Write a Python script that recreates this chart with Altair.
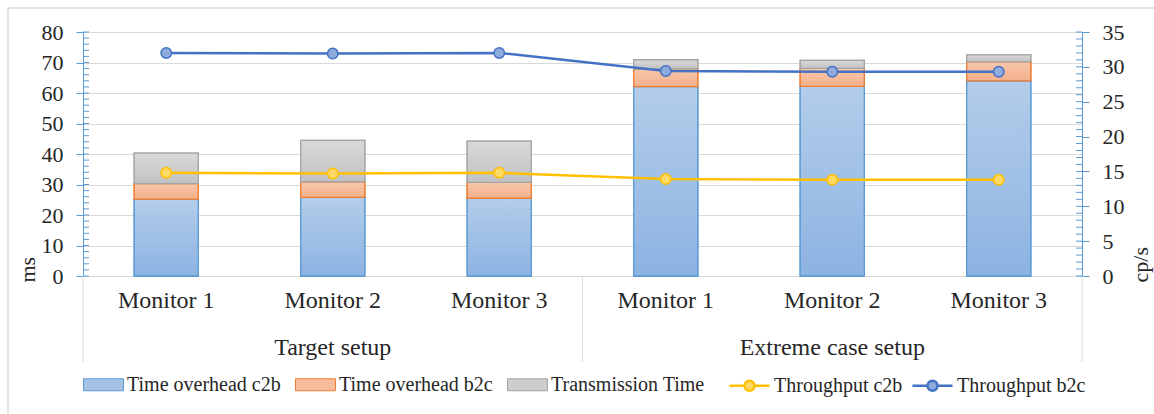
import altair as alt
import pandas as pd

# ---------------- data ----------------
setups = ["Target setup"] * 3 + ["Extreme case setup"] * 3
monitors = ["Monitor 1", "Monitor 2", "Monitor 3"] * 2
c2b_time = [25.2, 25.8, 25.5, 62.1, 62.2, 64.0]
b2c_time = [5.1, 5.1, 5.2, 5.8, 5.9, 6.2]
trans_time = [10.0, 13.6, 13.5, 3.0, 2.6, 2.3]
thr_c2b = [14.8, 14.7, 14.8, 13.9, 13.8, 13.8]
thr_b2c = [32.0, 31.9, 32.0, 29.4, 29.3, 29.3]
bar_series = ["Time overhead c2b", "Time overhead b2c", "Transmission Time"]
line_series = ["Throughput c2b", "Throughput b2c"]
group_labels = ["Target setup", "Extreme case setup"]
left_ticks = [0, 10, 20, 30, 40, 50, 60, 70, 80]
right_ticks = [0, 5, 10, 15, 20, 25, 30, 35]
left_minor = list(range(0, 81, 2))
right_minor = list(range(0, 36, 1))

cats = [f"{s}|{m}" for s, m in zip(setups, monitors)]

rows = []
for i, cat in enumerate(cats):
    base = 0.0
    for name, vals in zip(bar_series, [c2b_time, b2c_time, trans_time]):
        rows.append(dict(cat=cat, series=name, y0=base, y1=base + vals[i]))
        base += vals[i]
bars = pd.DataFrame(rows)
lines = pd.DataFrame({"cat": cats * 2,
                      "series": [line_series[0]] * 6 + [line_series[1]] * 6,
                      "v": thr_c2b + thr_b2c})
groups = pd.DataFrame({"cat": [cats[1], cats[4]], "g": group_labels})
edges0 = pd.DataFrame({"cat": [cats[0], cats[3]]})
edges1 = pd.DataFrame({"cat": [cats[5]]})
lminor = pd.DataFrame({"t": left_minor})
rminor = pd.DataFrame({"t": right_minor})

W, H = 999, 244
FONT = "Liberation Serif, Times New Roman, serif"
TXT = "#262626"
AXBLUE = "#5b9bd5"
GRID = "#d9d9d9"

x_scale = alt.Scale(domain=cats, paddingInner=0, paddingOuter=0)
x_axis = alt.Axis(labelExpr="split(datum.value, '|')[1]", title=None, ticks=False,
                  domainColor=GRID, domainWidth=1, labelPadding=12, labelFontSize=24,
                  labelAngle=0, grid=False, labelColor=TXT, labelFont=FONT)


def xenc(bp=None):
    if bp is None:
        return alt.X("cat:N", sort=cats, scale=x_scale, axis=x_axis)
    return alt.X("cat:N", sort=cats, scale=x_scale, axis=x_axis, bandPosition=bp)


yl_scale = alt.Scale(domain=[0, 80], nice=False, zero=True)
yr_scale = alt.Scale(domain=[0, 35], nice=False, zero=True)
left_axis = alt.Axis(title="ms", values=left_ticks, domainColor=AXBLUE, tickColor=AXBLUE,
                     tickSize=7, labelPadding=13, labelFontSize=22, labelColor=TXT,
                     labelFont=FONT, grid=True, gridColor=GRID, titleFont=FONT,
                     titleFontSize=22, titleFontWeight="normal", titleColor=TXT,
                     titleAngle=270, titleX=-56, titleY=250, titleAlign="left",
                     titleBaseline="middle")
right_axis = alt.Axis(title="cp/s", orient="right", values=right_ticks, domainColor=AXBLUE,
                      tickColor=AXBLUE, tickSize=7, labelPadding=13, labelFontSize=22,
                      labelColor=TXT, labelFont=FONT, grid=False, titleFont=FONT,
                      titleFontSize=22, titleFontWeight="normal", titleColor=TXT,
                      titleAngle=270, titleX=58, titleY=250, titleAlign="left",
                      titleBaseline="middle")

line_path = "M-1,0H-0.25M0.25,0H1M0.25,0A0.25,0.25 0 1,1 -0.25,0A0.25,0.25 0 1,1 0.25,0Z"
rect_path = "M-1,-0.3H1V0.3H-1Z"

bar_legend = alt.Legend(title=None, orient="none", direction="horizontal", columns=3,
                        legendX=0, legendY=332, labelFont=FONT, labelFontSize=20,
                        labelColor=TXT, symbolSize=1600, symbolType=rect_path,
                        symbolStrokeWidth=1, labelOffset=3, columnPadding=12,
                        symbolOpacity=1, labelLimit=300)
line_legend = alt.Legend(title=None, orient="none", direction="horizontal", columns=2,
                         legendX=645, legendY=332, labelFont=FONT, labelFontSize=20,
                         labelColor=TXT, symbolSize=1600, symbolType=line_path,
                         symbolStrokeWidth=2.5, labelOffset=3, columnPadding=4,
                         symbolOpacity=1, labelLimit=300)

bar_fill_scale = alt.Scale(domain=bar_series, range=["#a4c2e6", "#f6bc9c", "#cdcdcd"])
bar_stroke_scale = alt.Scale(domain=bar_series, range=["#5b9bd5", "#ed7d31", "#a5a5a5"])
line_stroke_scale = alt.Scale(domain=line_series, range=["#ffc000", "#4472c4"])
marker_fill_scale = alt.Scale(domain=line_series, range=["#ffd966", "#8faadc"])


def grad(c0, c1):
    return {"gradient": "linear", "x1": 0, "y1": 0, "x2": 0, "y2": 1,
            "stops": [{"offset": 0, "color": c0}, {"offset": 1, "color": c1}]}


bar_styles = [
    (bar_series[0], grad("#b3cdea", "#8db3e2"), "#5b9bd5"),
    (bar_series[1], grad("#f8c7ab", "#f4b08a"), "#ed7d31"),
    (bar_series[2], grad("#d9d9d9", "#c2c2c2"), "#a5a5a5"),
]

base_bars = alt.Chart(bars).mark_bar(width=alt.RelativeBandSize(0.385), strokeWidth=1.3).encode(
    x=xenc(),
    y=alt.Y("y0:Q", scale=yl_scale, axis=left_axis),
    y2="y1:Q",
    fill=alt.Fill("series:N", scale=bar_fill_scale, legend=bar_legend),
    stroke=alt.Stroke("series:N", scale=bar_stroke_scale, legend=bar_legend),
)


def grad_layer(name, g, stroke):
    return alt.Chart(bars).transform_filter(alt.datum.series == name).mark_bar(
        width=alt.RelativeBandSize(0.385), strokeWidth=1.3, fill=g, stroke=stroke
    ).encode(
        x=xenc(),
        y=alt.Y("y0:Q", scale=yl_scale, axis=left_axis),
        y2="y1:Q",
    )


left_layers = [base_bars] + [grad_layer(*s) for s in bar_styles]
left_layers.append(
    alt.Chart(lminor).mark_rule(color=AXBLUE, strokeWidth=1).encode(
        y=alt.Y("t:Q", scale=yl_scale, axis=left_axis), x=alt.value(0), x2=alt.value(6))
)
left_layers.append(
    alt.Chart(edges0).mark_rule(color=GRID, strokeWidth=1).encode(
        x=xenc(0), y=alt.value(H), y2=alt.value(H + 86))
)
left_layers.append(
    alt.Chart(edges1).mark_rule(color=GRID, strokeWidth=1).encode(
        x=xenc(1), y=alt.value(H), y2=alt.value(H + 86))
)
left_layers.append(
    alt.Chart(groups).mark_text(font=FONT, fontSize=24, color=TXT, baseline="middle").encode(
        x=xenc(0.5), y=alt.value(H + 72), text="g:N")
)
left_layers.append(
    alt.Chart(groups).mark_rule(color=GRID, strokeWidth=1).encode(
        x=alt.value(-75), x2=alt.value(W + 72), y=alt.value(-24))
)
left_layers.append(
    alt.Chart(groups).mark_rule(color=GRID, strokeWidth=1).encode(
        x=alt.value(-75), y=alt.value(-24), y2=alt.value(H + 138))
)
left = alt.layer(*left_layers)

ln = alt.Chart(lines).mark_line(strokeWidth=2.5).encode(
    x=xenc(0.5), y=alt.Y("v:Q", scale=yr_scale, axis=right_axis),
    stroke=alt.Stroke("series:N", scale=line_stroke_scale, legend=line_legend),
)
pt = alt.Chart(lines).mark_point(shape="circle", filled=True, strokeWidth=1.5, size=110,
                                 opacity=1).encode(
    x=xenc(0.5), y=alt.Y("v:Q", scale=yr_scale, axis=right_axis),
    stroke=alt.Stroke("series:N", scale=line_stroke_scale, legend=line_legend),
    fill=alt.Fill("series:N", scale=marker_fill_scale, legend=line_legend),
)
rt = alt.Chart(rminor).mark_rule(color=AXBLUE, strokeWidth=1).encode(
    y=alt.Y("t:Q", scale=yr_scale, axis=right_axis), x=alt.value(W - 6), x2=alt.value(W))
right = alt.layer(ln, pt, rt)

chart = alt.layer(left, right).resolve_scale(
    y="independent", fill="independent", stroke="independent"
).properties(
    width=W, height=H,
    autosize=alt.AutoSizeParams(type="none"),
    padding={"left": 83, "top": 32, "right": 72, "bottom": 138},
    background="white",
).configure_view(stroke=None).configure(font=FONT)

chart.save("out.html", embed_options={"renderer": "svg", "actions": False})
